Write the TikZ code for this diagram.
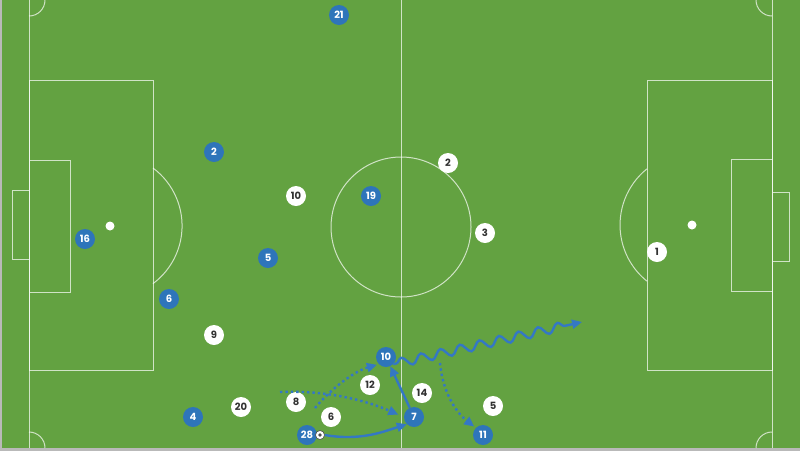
\documentclass[tikz,border=0pt]{standalone}
\usepackage{fontspec}
\setmainfont{Poppins}
\usetikzlibrary{arrows.meta,decorations.pathmorphing}
\definecolor{pitchgreen}{RGB}{99,162,65}
\definecolor{kitblue}{RGB}{46,117,186}
\definecolor{runblue}{RGB}{52,120,196}
\begin{document}
\begin{tikzpicture}
	[x=1pt,y=-1pt,
	lines/.style={draw=white,opacity=.7,line width=1pt},
	blues/.style={circle,fill=kitblue,text=white},
	whites/.style={circle,fill=white,text=black!80},
	run/.style={draw=runblue,line width=2.4pt,-{Triangle[length=10pt,width=9pt]}},
	dots/.style={run,dash pattern=on 2.4pt off 3pt}]
	\tikzstyle{every node}=[minimum size=20pt,inner sep=0pt,font=\fontsize{10}{10}\selectfont\bfseries]
	\useasboundingbox (0,0) rectangle (800,451);
	% pitch
	\fill[gray!55] (0,0) rectangle (800,451);
	\fill[pitchgreen] (2,0) rectangle (800,448);
	\draw[lines] (29,0) -- (29,448) (401,0) -- (401,448) (772,0) -- (772,448);
	\draw[lines] (401,227) circle (70);
	\draw[lines] (29,80) rectangle (153,370) (29,160) rectangle (70,292) (12,190) rectangle (29,259);
	\draw[lines] (772,80) rectangle (647,370) (772,159) rectangle (731,291) (772,192) rectangle (789,261);
	\draw[lines] (153,168) arc[start angle=-53.4,end angle=53.4,radius=72];
	\draw[lines] (647,168.8) arc[start angle=231.3,end angle=128.7,radius=72];
	\fill[white] (110,226) circle (4.5) (692,225) circle (4.5);
	\draw[lines] (29,16) arc[start angle=90,end angle=0,radius=16];
	\draw[lines] (45,448) arc[start angle=0,end angle=-90,radius=16];
	\draw[lines] (756,0) arc[start angle=180,end angle=90,radius=16];
	\draw[lines] (756,448) arc[start angle=180,end angle=270,radius=16];
	% players
	\foreach \n/\x/\y in {21/339/15, 2/214/152, 19/371/196, 16/85/239, 5/268/258, 6/169/299,
		10/386/357, 4/193/417, 28/307/435, 7/414/417, 11/483/435}
		\node[blues] (b\n) at (\x,\y) {\n};
	\foreach \n/\x/\y in {2/448/163, 10/296/196, 3/485/233, 1/657/252, 9/214/335, 12/370/385,
		14/422/393, 20/241/407, 8/296/402, 6/331/417, 5/493/406}
		\node[whites] (w\n) at (\x,\y) {\n};
	\node[circle,fill=white,draw=black!70,line width=.6pt,minimum size=9pt] (ball) at (320,435) {};
	\fill[black!70] (ball.center) circle (1.8);
	% moves
	\coordinate (dribble) at (582,322);
	\coordinate (r8) at (280,392);
	\coordinate (r6) at (315,408);
	\coordinate (r14) at (440,363);
	\draw[run] (ball.east) .. controls +(35,6) and +(-25,8) .. (b7.south west);
	\draw[run] (b7) -- (b10);
	\draw[run,decorate,decoration={snake,segment length=20pt,amplitude=4.5pt,pre length=3pt,post length=12pt}]
		(b10.south east) -- (dribble);
	\draw[dots,shorten >=6pt] (r8) .. controls (325,390) and (365,400) .. (b7.west);
	\draw[dots,shorten >=2pt] (r6) .. controls (328,392) and (352,372) .. (b10.south west);
	\draw[dots,shorten >=2pt] (r14) .. controls (443,395) and (458,414) .. (b11.north west);
\end{tikzpicture}
\end{document}
